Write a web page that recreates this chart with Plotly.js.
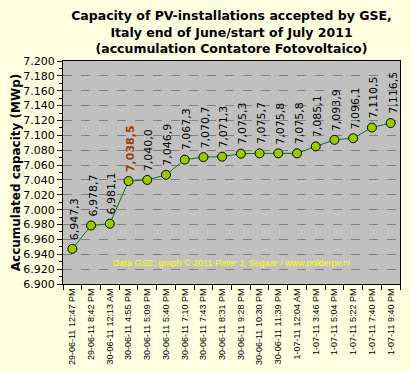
<!DOCTYPE html>
<html>
<head>
<meta charset="utf-8">
<script src="https://cdn.plot.ly/plotly-3.0.1.min.js"></script>
<style>html,body{margin:0;padding:0;background:#FFFFE1;}#chart{width:411px;height:371px;}</style>
</head>
<body>
<div id="chart"></div>
<script>
var categories = [
  "29-06-11 12:47 PM", "29-06-11 8:42 PM", "30-06-11 12:13 AM", "30-06-11 4:55 PM",
  "30-06-11 5:09 PM", "30-06-11 5:40 PM", "30-06-11 7:10 PM", "30-06-11 7:43 PM",
  "30-06-11 8:31 PM", "30-06-11 9:28 PM", "30-06-11 10:30 PM", "30-06-11 11:39 PM",
  "1-07-11 12:04 AM", "1-07-11 3:46 PM", "1-07-11 5:04 PM", "1-07-11 5:22 PM",
  "1-07-11 7:40 PM", "1-07-11 9:40 PM"
];
var capacity = [
  6947.3, 6978.7, 6981.1, 7038.5, 7040.0, 7046.9, 7067.3, 7070.7, 7071.3,
  7075.3, 7075.7, 7075.8, 7075.8, 7085.1, 7093.9, 7096.1, 7110.5, 7116.5
];
var highlightIndex = 3;
var titleText = "Capacity of PV-installations accepted by GSE,<br>Italy end of June/start of July 2011<br>(accumulation Contatore Fotovoltaico)";
var yTitle = "Accumulated capacity (MWp)";
var credit = "Data GSE; graph \u00A9 2011 Peter J. Segaar / www.polderpv.nl";

function fmt(v) {
  var s = v.toFixed(1);
  var parts = s.split(".");
  var ip = parts[0];
  return ip.slice(0, ip.length - 3) + "," + ip.slice(ip.length - 3) + "," + parts[1];
}

var trace = {
  x: categories,
  y: capacity,
  type: "scatter",
  mode: "lines+markers",
  line: {color: "#008000", width: 1},
  marker: {symbol: "circle", size: 9, color: "#99CC00", line: {color: "#000000", width: 1}},
  hoverinfo: "x+y"
};

var annotations = capacity.map(function (v, i) {
  var hi = i === highlightIndex;
  return {
    x: categories[i], y: v, xref: "x", yref: "y",
    text: hi ? "<b>" + fmt(v) + "</b>" : fmt(v),
    showarrow: false, textangle: -90,
    xanchor: "center", yanchor: "bottom", yshift: 7, xshift: 2,
    font: {family: "DejaVu Sans", size: 11, color: hi ? "#A0380A" : "#000000"}
  };
});
annotations.push({
  x: 0.5, y: 0.094, xref: "paper", yref: "paper",
  text: credit, showarrow: false, xanchor: "center", yanchor: "middle",
  font: {family: "Liberation Sans", size: 9, color: "#FFFF00"}
});

var layout = {
  width: 411, height: 371,
  paper_bgcolor: "#FFFFE1",
  plot_bgcolor: "#C0C0C0",
  separators: ",.",
  showlegend: false,
  margin: {l: 63, r: 11, t: 61, b: 87, pad: 0},
  title: {
    text: titleText,
    x: 0.5, xref: "paper", xanchor: "center",
    y: 0.945, yref: "container", yanchor: "top",
    font: {family: "DejaVu Sans", size: 12.5, color: "#000000", weight: "bold"}
  },
  xaxis: {
    type: "category",
    range: [-0.5, categories.length - 0.5],
    tickangle: -90,
    tickson: "boundaries",
    ticks: "outside", ticklen: 5, tickcolor: "#000000",
    showgrid: false, zeroline: false,
    showline: true, linecolor: "#000000", linewidth: 1, mirror: true,
    tickfont: {family: "Liberation Sans", size: 9, color: "#000000"}
  },
  yaxis: {
    range: [6900, 7200],
    dtick: 20, tick0: 6900,
    tickformat: ",.0f",
    ticks: "outside", ticklen: 5, tickcolor: "#000000",
    minor: {dtick: 10, ticks: "outside", ticklen: 3, tickcolor: "#000000", showgrid: false},
    showgrid: true, gridcolor: "#808080", griddash: "dash", gridwidth: 1,
    zeroline: false,
    showline: true, linecolor: "#000000", linewidth: 1, mirror: true,
    tickfont: {family: "DejaVu Sans", size: 11, color: "#000000"},
    title: {text: yTitle, standoff: 0, font: {family: "DejaVu Sans", size: 12, color: "#000000", weight: "bold"}}
  },
  annotations: annotations
};

Plotly.newPlot("chart", [trace], layout, {displayModeBar: false, staticPlot: true});
</script>
</body>
</html>
